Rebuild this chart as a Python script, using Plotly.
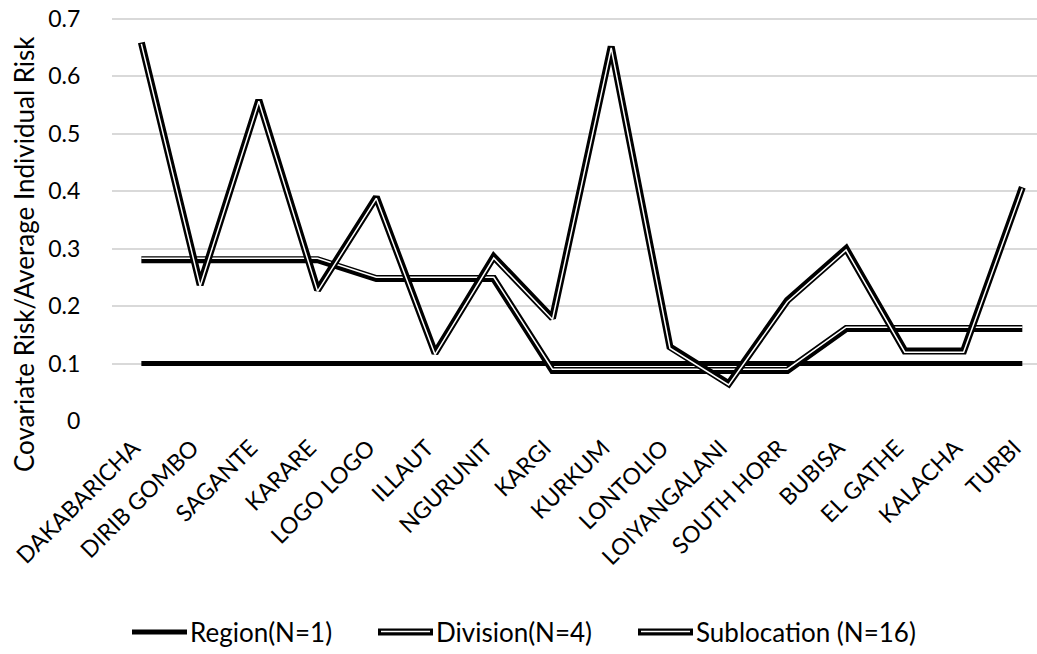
import plotly.graph_objects as go

categories = ["DAKABARICHA", "DIRIB GOMBO", "SAGANTE", "KARARE", "LOGO LOGO", "ILLAUT",
              "NGURUNIT", "KARGI", "KURKUM", "LONTOLIO", "LOIYANGALANI", "SOUTH HORR",
              "BUBISA", "EL GATHE", "KALACHA", "TURBI"]
region = [0.1] * 16
division = [0.281, 0.281, 0.281, 0.281, 0.248, 0.248, 0.248, 0.088, 0.088, 0.088,
            0.088, 0.088, 0.161, 0.161, 0.161, 0.161]
sublocation = [0.659, 0.237, 0.559, 0.228, 0.39, 0.118, 0.286, 0.179, 0.652, 0.129,
               0.065, 0.21, 0.30, 0.122, 0.122, 0.407]
series_names = ["Region(N=1)", "Division(N=4)", "Sublocation (N=16)"]
y_title = "Covariate Risk/Average Individual Risk"
y_ticks = [0, 0.1, 0.2, 0.3, 0.4, 0.5, 0.6, 0.7]
y_ticktext = ["0", "0.1", "0.2", "0.3", "0.4", "0.5", "0.6", "0.7"]

FONT = "Lato"
W, H = 1037, 654
EXTRA = 3  # px of headroom above the 0.7 gridline so it is drawn
ML, MR, MT, MB = 112, 0, 19 - EXTRA, 233
px_to_data = 0.7 / (H - MT - EXTRA - MB)
YMAX = 0.7 + EXTRA * px_to_data
plot_h = H - MT - MB
# white core of the compound (thick-thin) line, shifted ~1.3 px from the centre
shift = 1.3 * px_to_data

fig = go.Figure()
fig.add_trace(go.Scatter(x=categories, y=region, mode="lines", name=series_names[0],
                         line=dict(color="black", width=5)))
for name, vals, sgn in [(series_names[1], division, 1), (series_names[2], sublocation, -1)]:
    fig.add_trace(go.Scatter(x=categories, y=vals, mode="lines", name=name,
                             line=dict(color="black", width=7)))
    fig.add_trace(go.Scatter(x=categories, y=[v + sgn * shift for v in vals], mode="lines",
                             name=name, line=dict(color="white", width=1.5),
                             showlegend=False, hoverinfo="skip"))

# positions below are given in figure pixels
def px2paper_x(px):
    return (px - ML) / (W - ML - MR)
def px2paper_y(py):
    return (H - MB - py) / plot_h

# custom legend (compound line symbols drawn like the series)
legend_items = [(series_names[0], 132, False), (series_names[1], 378, True),
                (series_names[2], 638, True)]
shapes, annos = [], []
ly = 632
for name, x0, double in legend_items:
    x1 = x0 + 55
    shapes.append(dict(type="line", xref="paper", yref="paper",
                       x0=px2paper_x(x0), x1=px2paper_x(x1),
                       y0=px2paper_y(ly), y1=px2paper_y(ly),
                       line=dict(color="black", width=7 if double else 5)))
    if double:
        shapes.append(dict(type="line", xref="paper", yref="paper",
                           x0=px2paper_x(x0 + 3), x1=px2paper_x(x1 - 3),
                           y0=px2paper_y(ly - 0.5), y1=px2paper_y(ly - 0.5),
                           line=dict(color="white", width=1.5)))
    annos.append(dict(text=name, xref="paper", yref="paper", x=px2paper_x(x1 + 1),
                      y=px2paper_y(ly), xanchor="left", yanchor="middle", showarrow=False,
                      font=dict(size=26, family=FONT, color="black")))

annos.append(dict(text=y_title, textangle=-90, xref="paper", yref="paper",
                  x=px2paper_x(24), y=px2paper_y(254), xanchor="center", yanchor="middle",
                  showarrow=False, font=dict(size=26, family=FONT, color="black")))

fig.update_layout(
    width=W, height=H,
    margin=dict(l=ML, r=MR, t=MT, b=MB, autoexpand=False),
    paper_bgcolor="white", plot_bgcolor="white",
    font=dict(family=FONT, size=18, color="black"),
    showlegend=False,
    shapes=shapes, annotations=annos,
)
fig.update_xaxes(type="category", range=[-0.5, 15.25], tickangle=-45, showgrid=False,
                 showline=False, ticks="", tickfont=dict(size=23, family=FONT),
                 ticklabelshift=-8, ticklabelstandoff=8, automargin=False)
fig.update_yaxes(range=[0, YMAX], showgrid=True, gridcolor="#d9d9d9",
                 gridwidth=1.5, zeroline=False, showline=False,
                 ticks="outside", ticklen=26, tickcolor="rgba(0,0,0,0)",
                 tickvals=y_ticks, ticktext=y_ticktext,
                 tickfont=dict(size=23, family=FONT), ticklabeloverflow="allow",
                 automargin=False)

fig.write_html("out.html", config={"displayModeBar": False},
               post_script="document.body.style.margin='0';document.body.style.overflow='hidden';")
